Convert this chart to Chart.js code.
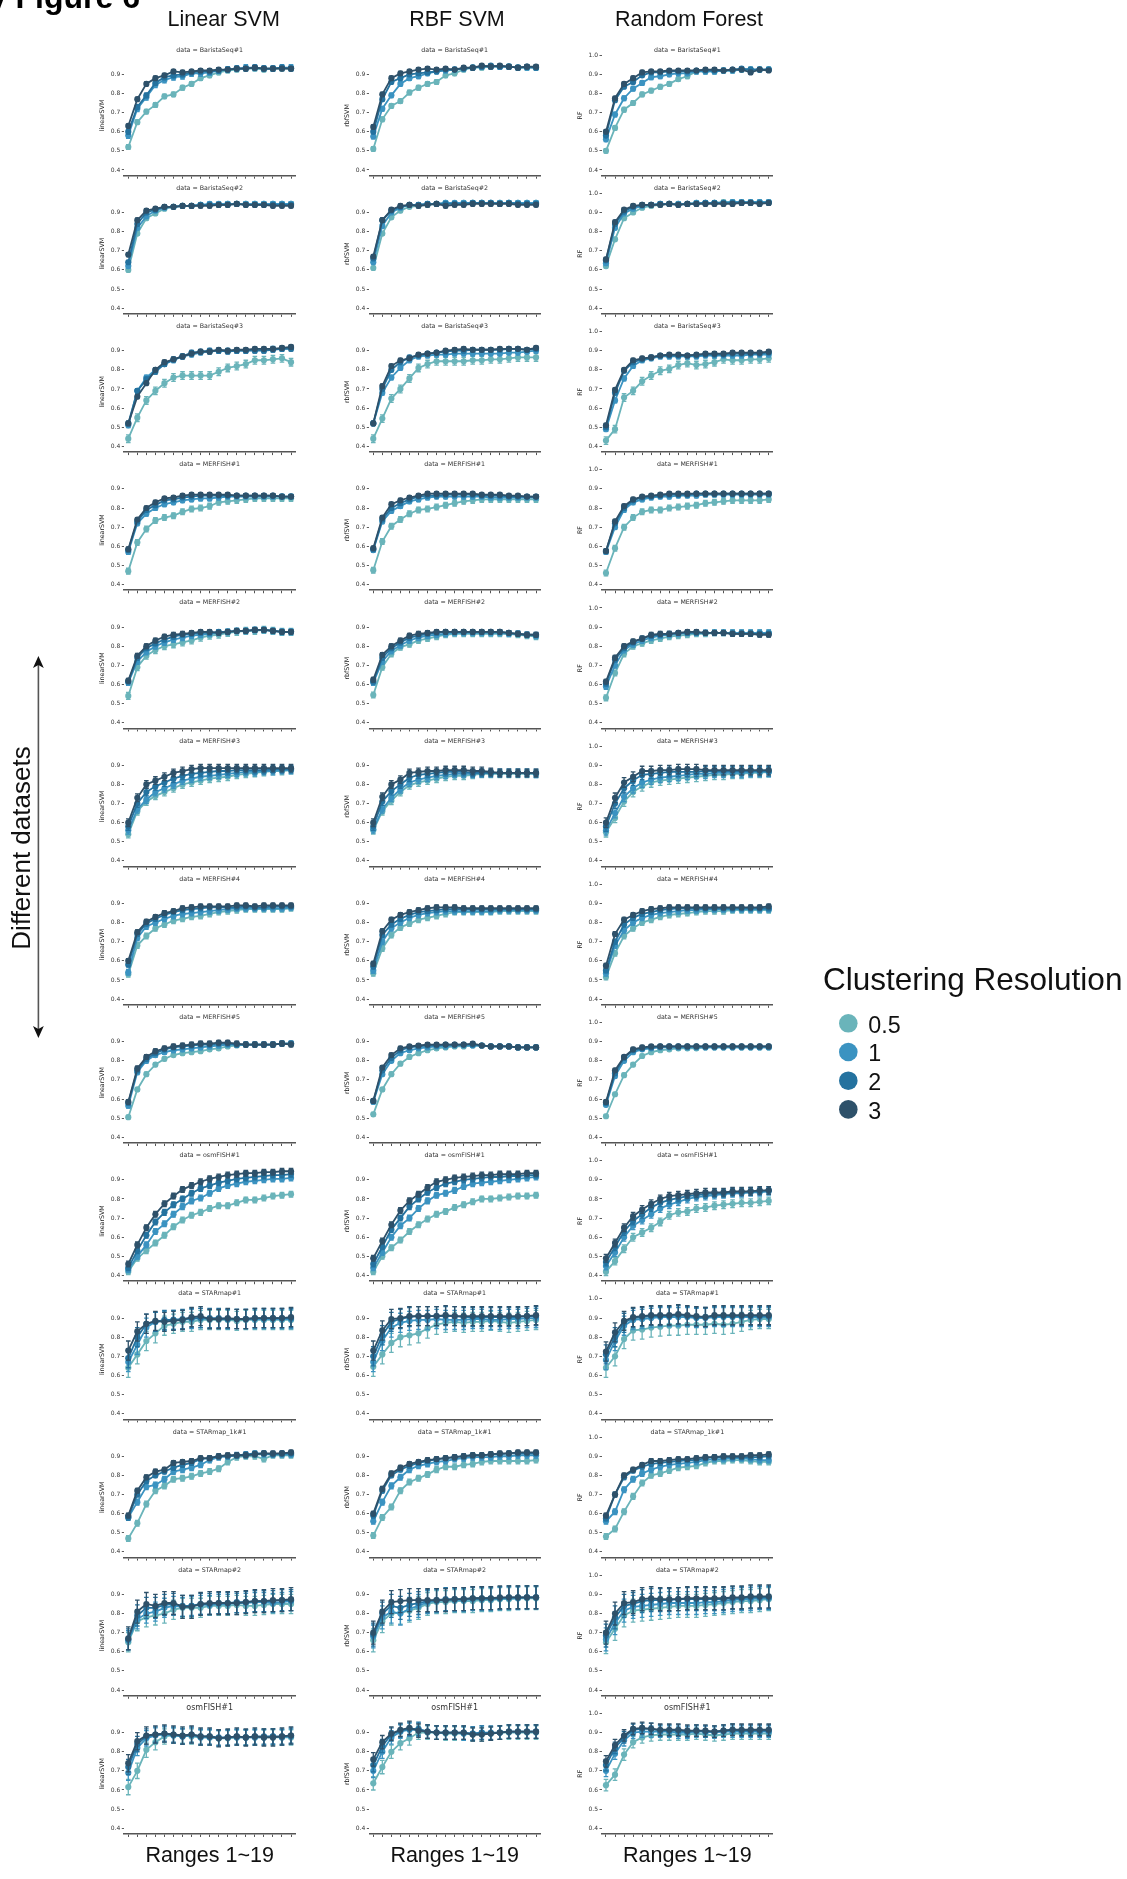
<!DOCTYPE html>
<html>
<head>
<meta charset="utf-8">
<script src="https://cdn.jsdelivr.net/npm/chart.js@4.4.1/dist/chart.umd.min.js"></script>
<style>
  html, body { margin: 0; padding: 0; background: #fff; }
  body { position: relative; width: 1127px; height: 1879px; overflow: hidden; }
  canvas.panel { position: absolute; }
  svg.overlay { position: absolute; left: 0; top: 0; pointer-events: none; }
</style>
</head>
<body>
<script>
// ---------- labels ----------
const rangeTicks = [1,2,3,4,5,6,7,8,9,10,11,12,13,14,15,16,17,18,19];
const resolutions = ['0.5', '1', '2', '3'];
const seriesColors = ['#6ab4ba', '#3b93c1', '#24729f', '#2e516a'];
const models = ['Linear SVM', 'RBF SVM', 'Random Forest'];
const modelAxisTitles = ['linearSVM', 'rbfSVM', 'RF'];
const datasetTitles = [
  'data = BaristaSeq#1', 'data = BaristaSeq#2', 'data = BaristaSeq#3',
  'data = MERFISH#1', 'data = MERFISH#2', 'data = MERFISH#3', 'data = MERFISH#4', 'data = MERFISH#5',
  'data = osmFISH#1', 'data = STARmap#1', 'data = STARmap_1k#1', 'data = STARmap#2', 'osmFISH#1'
];
const yTicksSVM = [0.4, 0.5, 0.6, 0.7, 0.8, 0.9];
const yTicksRF = [0.4, 0.5, 0.6, 0.7, 0.8, 0.9, 1.0];

// ---------- Linear SVM accuracy (rows: resolution 0.5, 1, 2, 3) ----------
const linBarista1 = [
  [0.52,0.65,0.705,0.74,0.785,0.795,0.83,0.85,0.88,0.895,0.91,0.92,0.925,0.93,0.93,0.925,0.93,0.93,0.93],
  [0.58,0.72,0.78,0.845,0.87,0.885,0.89,0.905,0.905,0.91,0.92,0.925,0.93,0.935,0.935,0.93,0.93,0.935,0.935],
  [0.60,0.73,0.79,0.855,0.885,0.895,0.90,0.91,0.915,0.915,0.92,0.925,0.93,0.93,0.935,0.93,0.93,0.935,0.93],
  [0.63,0.77,0.85,0.88,0.895,0.915,0.91,0.915,0.92,0.92,0.925,0.925,0.93,0.93,0.935,0.93,0.93,0.93,0.93]];
const linBarista2 = [
  [0.60,0.79,0.87,0.895,0.92,0.93,0.935,0.935,0.94,0.94,0.94,0.945,0.945,0.945,0.945,0.945,0.945,0.945,0.945],
  [0.62,0.82,0.88,0.91,0.925,0.93,0.935,0.935,0.94,0.945,0.945,0.945,0.945,0.945,0.945,0.945,0.945,0.945,0.945],
  [0.64,0.84,0.90,0.915,0.93,0.93,0.935,0.935,0.94,0.94,0.94,0.94,0.945,0.94,0.94,0.94,0.94,0.94,0.94],
  [0.68,0.86,0.91,0.92,0.93,0.93,0.935,0.935,0.935,0.935,0.94,0.94,0.945,0.94,0.94,0.94,0.935,0.935,0.935]];
const linBarista3 = [
  [0.44,0.55,0.64,0.69,0.73,0.76,0.77,0.77,0.77,0.77,0.79,0.81,0.82,0.83,0.85,0.85,0.855,0.86,0.84],
  [0.51,0.69,0.76,0.80,0.83,0.85,0.87,0.88,0.89,0.895,0.90,0.90,0.90,0.90,0.905,0.905,0.91,0.91,0.915],
  [0.52,0.69,0.75,0.79,0.83,0.855,0.87,0.89,0.895,0.90,0.90,0.895,0.90,0.90,0.90,0.90,0.905,0.91,0.91],
  [0.52,0.66,0.73,0.80,0.84,0.855,0.87,0.885,0.895,0.895,0.905,0.90,0.905,0.905,0.91,0.91,0.91,0.915,0.92]];
const linMerfish1 = [
  [0.47,0.62,0.69,0.735,0.75,0.76,0.78,0.795,0.80,0.81,0.83,0.835,0.84,0.845,0.85,0.85,0.85,0.85,0.85],
  [0.57,0.72,0.77,0.80,0.82,0.83,0.84,0.845,0.85,0.85,0.855,0.86,0.86,0.86,0.86,0.86,0.86,0.86,0.86],
  [0.58,0.73,0.79,0.815,0.84,0.845,0.855,0.86,0.865,0.865,0.865,0.865,0.865,0.865,0.865,0.865,0.865,0.86,0.86],
  [0.585,0.74,0.80,0.83,0.85,0.855,0.865,0.87,0.87,0.87,0.87,0.87,0.865,0.865,0.865,0.865,0.865,0.86,0.86]];
const linMerfish2 = [
  [0.54,0.69,0.75,0.78,0.80,0.81,0.82,0.83,0.845,0.855,0.86,0.87,0.875,0.88,0.88,0.885,0.88,0.875,0.875],
  [0.61,0.72,0.77,0.80,0.82,0.835,0.845,0.855,0.86,0.865,0.87,0.875,0.88,0.88,0.885,0.885,0.88,0.875,0.875],
  [0.615,0.74,0.79,0.815,0.835,0.85,0.86,0.865,0.87,0.87,0.875,0.875,0.88,0.88,0.885,0.885,0.88,0.875,0.875],
  [0.62,0.75,0.80,0.83,0.85,0.86,0.865,0.87,0.875,0.875,0.87,0.875,0.88,0.88,0.885,0.885,0.88,0.875,0.875]];
const linMerfish3 = [
  [0.54,0.66,0.71,0.74,0.76,0.78,0.80,0.81,0.82,0.83,0.835,0.84,0.85,0.855,0.86,0.865,0.87,0.87,0.875],
  [0.56,0.67,0.72,0.76,0.78,0.80,0.82,0.83,0.84,0.845,0.85,0.855,0.86,0.865,0.865,0.87,0.87,0.875,0.875],
  [0.58,0.70,0.76,0.79,0.81,0.83,0.845,0.855,0.86,0.865,0.87,0.87,0.875,0.875,0.875,0.875,0.88,0.88,0.88],
  [0.60,0.73,0.80,0.82,0.84,0.86,0.87,0.88,0.885,0.885,0.885,0.885,0.885,0.885,0.885,0.885,0.885,0.885,0.885]];
const linMerfish4 = [
  [0.53,0.68,0.73,0.77,0.79,0.81,0.82,0.83,0.835,0.845,0.855,0.86,0.865,0.87,0.87,0.87,0.87,0.87,0.875],
  [0.54,0.72,0.78,0.80,0.82,0.835,0.845,0.85,0.855,0.86,0.865,0.87,0.875,0.875,0.875,0.875,0.875,0.875,0.88],
  [0.58,0.74,0.795,0.82,0.84,0.855,0.865,0.87,0.875,0.88,0.88,0.88,0.88,0.885,0.88,0.88,0.885,0.885,0.885],
  [0.60,0.75,0.805,0.83,0.85,0.86,0.875,0.88,0.885,0.885,0.885,0.885,0.89,0.89,0.885,0.89,0.89,0.89,0.89]];
const linMerfish5 = [
  [0.505,0.65,0.73,0.78,0.81,0.83,0.84,0.845,0.85,0.86,0.865,0.875,0.88,0.885,0.885,0.885,0.885,0.89,0.89],
  [0.565,0.74,0.80,0.83,0.845,0.855,0.86,0.865,0.87,0.875,0.88,0.885,0.885,0.885,0.885,0.885,0.885,0.89,0.89],
  [0.58,0.75,0.81,0.84,0.86,0.87,0.875,0.88,0.885,0.885,0.89,0.89,0.885,0.885,0.885,0.885,0.885,0.89,0.89],
  [0.585,0.76,0.82,0.85,0.865,0.875,0.88,0.885,0.89,0.89,0.895,0.895,0.89,0.885,0.885,0.885,0.885,0.89,0.885]];
const linOsmfish1 = [
  [0.42,0.49,0.53,0.57,0.61,0.655,0.69,0.715,0.73,0.75,0.765,0.765,0.78,0.795,0.795,0.805,0.815,0.82,0.825],
  [0.43,0.50,0.56,0.63,0.67,0.72,0.76,0.79,0.805,0.83,0.855,0.87,0.88,0.89,0.895,0.90,0.905,0.905,0.91],
  [0.44,0.53,0.61,0.68,0.73,0.77,0.80,0.83,0.855,0.87,0.885,0.895,0.905,0.91,0.915,0.92,0.925,0.925,0.93],
  [0.46,0.56,0.65,0.72,0.775,0.815,0.85,0.87,0.89,0.905,0.915,0.925,0.93,0.935,0.935,0.94,0.94,0.945,0.945]];
const linStarmap1 = [
  [0.64,0.71,0.78,0.82,0.86,0.87,0.88,0.88,0.89,0.89,0.89,0.89,0.885,0.89,0.89,0.89,0.89,0.89,0.89],
  [0.67,0.76,0.85,0.88,0.885,0.89,0.89,0.895,0.90,0.895,0.895,0.895,0.895,0.895,0.895,0.895,0.895,0.895,0.895],
  [0.69,0.80,0.87,0.88,0.89,0.89,0.895,0.90,0.90,0.90,0.90,0.895,0.895,0.895,0.90,0.90,0.90,0.90,0.90],
  [0.73,0.83,0.87,0.885,0.88,0.885,0.89,0.905,0.91,0.895,0.895,0.90,0.895,0.895,0.90,0.90,0.90,0.90,0.905]];
const linStarmap1k = [
  [0.47,0.55,0.65,0.72,0.745,0.78,0.785,0.795,0.81,0.82,0.835,0.87,0.895,0.90,0.90,0.885,0.905,0.905,0.905],
  [0.58,0.66,0.74,0.75,0.78,0.82,0.83,0.84,0.855,0.88,0.895,0.90,0.905,0.905,0.91,0.91,0.91,0.91,0.91],
  [0.58,0.70,0.77,0.80,0.82,0.84,0.855,0.865,0.885,0.89,0.90,0.90,0.905,0.91,0.915,0.915,0.91,0.915,0.915],
  [0.59,0.72,0.79,0.82,0.83,0.865,0.87,0.875,0.89,0.89,0.90,0.905,0.905,0.905,0.91,0.915,0.915,0.915,0.92]];
const linStarmap2 = [
  [0.65,0.76,0.78,0.79,0.80,0.82,0.83,0.83,0.83,0.84,0.84,0.84,0.845,0.84,0.84,0.845,0.85,0.85,0.85],
  [0.66,0.77,0.80,0.81,0.83,0.84,0.835,0.84,0.845,0.845,0.85,0.85,0.855,0.855,0.86,0.86,0.855,0.86,0.865],
  [0.665,0.79,0.83,0.83,0.845,0.85,0.84,0.84,0.85,0.85,0.855,0.855,0.86,0.86,0.865,0.865,0.865,0.87,0.87],
  [0.67,0.81,0.85,0.84,0.855,0.855,0.835,0.835,0.85,0.855,0.855,0.855,0.855,0.86,0.865,0.865,0.87,0.87,0.875]];
const linOsmfishB = [
  [0.615,0.70,0.81,0.85,0.88,0.885,0.885,0.88,0.875,0.875,0.87,0.87,0.875,0.875,0.875,0.875,0.875,0.875,0.875],
  [0.69,0.82,0.87,0.885,0.89,0.885,0.88,0.885,0.875,0.875,0.87,0.875,0.875,0.875,0.875,0.875,0.88,0.875,0.88],
  [0.72,0.84,0.88,0.89,0.895,0.89,0.88,0.89,0.88,0.88,0.875,0.875,0.88,0.875,0.88,0.88,0.88,0.88,0.885],
  [0.74,0.855,0.885,0.89,0.895,0.89,0.885,0.89,0.88,0.88,0.87,0.875,0.88,0.875,0.88,0.875,0.875,0.88,0.885]];

// ---------- RBF SVM accuracy ----------
const rbfBarista1 = [
  [0.51,0.665,0.735,0.76,0.805,0.83,0.85,0.86,0.895,0.905,0.925,0.935,0.935,0.94,0.94,0.94,0.935,0.935,0.935],
  [0.575,0.72,0.79,0.85,0.88,0.89,0.905,0.915,0.92,0.925,0.93,0.935,0.94,0.94,0.94,0.94,0.935,0.935,0.935],
  [0.60,0.77,0.86,0.88,0.90,0.905,0.91,0.915,0.925,0.925,0.93,0.935,0.94,0.945,0.94,0.94,0.935,0.94,0.935],
  [0.625,0.795,0.88,0.905,0.915,0.925,0.93,0.925,0.93,0.925,0.935,0.935,0.945,0.94,0.945,0.94,0.935,0.94,0.94]];
const rbfBarista2 = [
  [0.61,0.79,0.875,0.91,0.93,0.935,0.94,0.945,0.95,0.945,0.95,0.95,0.95,0.95,0.95,0.95,0.95,0.95,0.95],
  [0.64,0.83,0.90,0.925,0.94,0.94,0.945,0.945,0.95,0.95,0.95,0.95,0.95,0.95,0.95,0.95,0.95,0.95,0.95],
  [0.66,0.86,0.91,0.93,0.94,0.94,0.945,0.945,0.945,0.945,0.945,0.95,0.95,0.95,0.945,0.95,0.945,0.945,0.945],
  [0.67,0.86,0.915,0.935,0.94,0.935,0.94,0.945,0.935,0.94,0.94,0.945,0.945,0.945,0.945,0.945,0.94,0.94,0.94]];
const rbfBarista3 = [
  [0.44,0.545,0.65,0.70,0.755,0.81,0.83,0.845,0.845,0.845,0.845,0.85,0.85,0.855,0.855,0.86,0.865,0.865,0.865],
  [0.52,0.68,0.76,0.81,0.85,0.87,0.875,0.88,0.88,0.885,0.885,0.885,0.885,0.885,0.885,0.89,0.89,0.895,0.90],
  [0.52,0.70,0.80,0.84,0.865,0.875,0.885,0.89,0.895,0.90,0.90,0.905,0.905,0.905,0.905,0.91,0.91,0.905,0.91],
  [0.52,0.715,0.82,0.85,0.86,0.88,0.885,0.89,0.90,0.905,0.91,0.905,0.905,0.905,0.91,0.91,0.91,0.905,0.915]];
const rbfMerfish1 = [
  [0.475,0.625,0.705,0.74,0.77,0.79,0.795,0.805,0.815,0.825,0.835,0.84,0.845,0.845,0.845,0.845,0.845,0.845,0.845],
  [0.58,0.73,0.785,0.81,0.835,0.845,0.855,0.86,0.86,0.86,0.86,0.86,0.86,0.855,0.855,0.855,0.855,0.855,0.855],
  [0.585,0.74,0.80,0.825,0.845,0.86,0.865,0.865,0.87,0.87,0.87,0.87,0.865,0.865,0.865,0.86,0.86,0.86,0.86],
  [0.59,0.75,0.82,0.84,0.855,0.865,0.875,0.875,0.875,0.875,0.875,0.875,0.87,0.87,0.87,0.865,0.865,0.86,0.86]];
const rbfMerfish2 = [
  [0.545,0.69,0.76,0.795,0.81,0.83,0.84,0.85,0.86,0.865,0.865,0.865,0.865,0.865,0.865,0.865,0.86,0.855,0.85],
  [0.61,0.72,0.775,0.805,0.83,0.845,0.855,0.86,0.865,0.87,0.87,0.87,0.87,0.87,0.87,0.865,0.865,0.86,0.855],
  [0.615,0.74,0.79,0.82,0.845,0.855,0.865,0.87,0.875,0.875,0.875,0.875,0.875,0.875,0.875,0.87,0.865,0.86,0.86],
  [0.625,0.755,0.80,0.83,0.855,0.865,0.87,0.875,0.875,0.875,0.875,0.875,0.875,0.875,0.875,0.87,0.865,0.86,0.86]];
const rbfMerfish3 = [
  [0.56,0.66,0.715,0.76,0.795,0.81,0.82,0.83,0.84,0.845,0.845,0.85,0.855,0.855,0.855,0.855,0.855,0.855,0.855],
  [0.565,0.67,0.73,0.775,0.81,0.825,0.835,0.845,0.85,0.855,0.855,0.855,0.86,0.86,0.86,0.86,0.86,0.86,0.855],
  [0.58,0.71,0.765,0.80,0.835,0.85,0.855,0.86,0.865,0.865,0.865,0.86,0.86,0.86,0.86,0.86,0.86,0.86,0.86],
  [0.60,0.735,0.80,0.825,0.86,0.865,0.87,0.87,0.875,0.875,0.875,0.87,0.87,0.865,0.86,0.86,0.86,0.86,0.86]];
const rbfMerfish4 = [
  [0.535,0.665,0.735,0.775,0.795,0.815,0.825,0.835,0.845,0.855,0.855,0.855,0.855,0.855,0.86,0.86,0.86,0.86,0.86],
  [0.55,0.70,0.77,0.80,0.825,0.84,0.85,0.855,0.86,0.86,0.86,0.86,0.86,0.86,0.865,0.865,0.865,0.865,0.865],
  [0.57,0.735,0.79,0.82,0.84,0.855,0.86,0.865,0.87,0.87,0.87,0.87,0.87,0.87,0.87,0.87,0.87,0.87,0.87],
  [0.585,0.755,0.815,0.84,0.855,0.865,0.875,0.88,0.88,0.88,0.875,0.875,0.875,0.875,0.875,0.875,0.875,0.875,0.875]];
const rbfMerfish5 = [
  [0.52,0.65,0.73,0.785,0.82,0.84,0.855,0.865,0.87,0.875,0.875,0.88,0.88,0.875,0.875,0.875,0.87,0.87,0.87],
  [0.585,0.73,0.80,0.84,0.855,0.865,0.87,0.875,0.875,0.88,0.88,0.88,0.88,0.875,0.875,0.875,0.87,0.87,0.87],
  [0.59,0.75,0.815,0.855,0.87,0.875,0.88,0.88,0.885,0.885,0.885,0.885,0.88,0.875,0.875,0.875,0.87,0.87,0.87],
  [0.59,0.765,0.83,0.865,0.875,0.88,0.885,0.885,0.885,0.885,0.885,0.89,0.88,0.875,0.875,0.875,0.87,0.87,0.87]];
const rbfOsmfish1 = [
  [0.42,0.50,0.545,0.585,0.63,0.665,0.695,0.72,0.735,0.755,0.77,0.785,0.80,0.80,0.805,0.81,0.815,0.815,0.82],
  [0.44,0.52,0.60,0.66,0.70,0.75,0.79,0.82,0.83,0.845,0.865,0.88,0.885,0.89,0.895,0.90,0.905,0.91,0.915],
  [0.46,0.55,0.64,0.70,0.76,0.80,0.835,0.86,0.88,0.89,0.90,0.905,0.91,0.915,0.915,0.92,0.92,0.925,0.925],
  [0.49,0.58,0.665,0.74,0.79,0.825,0.86,0.89,0.90,0.91,0.915,0.92,0.925,0.925,0.93,0.93,0.93,0.935,0.935]];
const rbfStarmap1 = [
  [0.645,0.71,0.77,0.80,0.81,0.82,0.845,0.865,0.875,0.88,0.875,0.88,0.88,0.885,0.88,0.875,0.88,0.885,0.89],
  [0.67,0.78,0.85,0.875,0.885,0.89,0.89,0.895,0.89,0.89,0.89,0.895,0.895,0.89,0.89,0.895,0.895,0.90,0.90],
  [0.70,0.81,0.88,0.895,0.905,0.91,0.91,0.91,0.91,0.91,0.905,0.905,0.905,0.905,0.905,0.905,0.905,0.91,0.91],
  [0.73,0.835,0.895,0.90,0.91,0.91,0.91,0.91,0.915,0.91,0.91,0.91,0.91,0.91,0.91,0.91,0.91,0.91,0.915]];
const rbfStarmap1k = [
  [0.485,0.58,0.635,0.72,0.765,0.785,0.805,0.83,0.845,0.845,0.855,0.86,0.87,0.875,0.875,0.875,0.875,0.875,0.88],
  [0.56,0.66,0.745,0.79,0.83,0.85,0.86,0.87,0.875,0.885,0.89,0.895,0.895,0.895,0.90,0.90,0.905,0.905,0.905],
  [0.59,0.72,0.80,0.83,0.85,0.865,0.875,0.885,0.89,0.895,0.90,0.905,0.905,0.91,0.91,0.915,0.915,0.915,0.915],
  [0.60,0.73,0.81,0.84,0.86,0.87,0.88,0.885,0.89,0.895,0.90,0.905,0.905,0.91,0.915,0.915,0.92,0.92,0.92]];
const rbfStarmap2 = [
  [0.66,0.76,0.80,0.805,0.815,0.83,0.85,0.86,0.86,0.865,0.865,0.865,0.87,0.87,0.875,0.875,0.88,0.88,0.88],
  [0.68,0.78,0.81,0.80,0.825,0.84,0.86,0.865,0.87,0.87,0.87,0.875,0.875,0.875,0.88,0.88,0.88,0.885,0.885],
  [0.69,0.80,0.84,0.83,0.845,0.855,0.865,0.87,0.875,0.875,0.875,0.88,0.88,0.88,0.88,0.885,0.885,0.885,0.885],
  [0.70,0.81,0.86,0.865,0.87,0.87,0.87,0.87,0.87,0.875,0.875,0.88,0.88,0.88,0.885,0.885,0.885,0.885,0.885]];
const rbfOsmfishB = [
  [0.635,0.72,0.80,0.845,0.87,0.90,0.90,0.90,0.895,0.895,0.895,0.89,0.89,0.895,0.90,0.90,0.90,0.90,0.90],
  [0.70,0.80,0.875,0.905,0.915,0.915,0.905,0.90,0.90,0.90,0.895,0.895,0.90,0.895,0.90,0.905,0.905,0.905,0.905],
  [0.73,0.83,0.89,0.91,0.92,0.92,0.905,0.90,0.90,0.90,0.90,0.895,0.90,0.90,0.90,0.905,0.905,0.905,0.905],
  [0.76,0.85,0.895,0.915,0.925,0.91,0.905,0.90,0.90,0.90,0.90,0.89,0.89,0.895,0.90,0.905,0.905,0.905,0.905]];

// ---------- Random Forest accuracy ----------
const rfBarista1 = [
  [0.50,0.62,0.715,0.75,0.795,0.815,0.835,0.85,0.875,0.89,0.915,0.915,0.915,0.92,0.92,0.925,0.925,0.925,0.925],
  [0.56,0.69,0.775,0.825,0.855,0.885,0.89,0.90,0.905,0.905,0.915,0.915,0.915,0.92,0.92,0.925,0.925,0.925,0.925],
  [0.58,0.765,0.835,0.86,0.895,0.91,0.91,0.915,0.915,0.915,0.92,0.92,0.92,0.92,0.925,0.93,0.925,0.925,0.925],
  [0.60,0.775,0.85,0.88,0.91,0.915,0.915,0.92,0.92,0.92,0.92,0.925,0.925,0.92,0.925,0.925,0.91,0.925,0.92]];
const rfBarista2 = [
  [0.62,0.76,0.87,0.90,0.925,0.935,0.94,0.945,0.945,0.945,0.95,0.95,0.95,0.955,0.955,0.955,0.955,0.955,0.955],
  [0.635,0.82,0.895,0.92,0.935,0.94,0.945,0.945,0.945,0.945,0.95,0.95,0.95,0.95,0.955,0.955,0.955,0.955,0.955],
  [0.65,0.84,0.905,0.93,0.94,0.94,0.945,0.945,0.94,0.945,0.945,0.95,0.95,0.95,0.95,0.95,0.95,0.95,0.95],
  [0.655,0.85,0.915,0.935,0.94,0.94,0.94,0.945,0.94,0.945,0.945,0.945,0.945,0.945,0.945,0.95,0.95,0.945,0.95]];
const rfBarista3 = [
  [0.43,0.49,0.655,0.69,0.74,0.77,0.795,0.805,0.825,0.835,0.825,0.83,0.84,0.855,0.85,0.85,0.855,0.855,0.86],
  [0.49,0.64,0.755,0.82,0.85,0.86,0.87,0.87,0.87,0.87,0.87,0.875,0.875,0.875,0.875,0.875,0.88,0.88,0.88],
  [0.50,0.68,0.795,0.84,0.855,0.865,0.875,0.875,0.875,0.875,0.875,0.88,0.88,0.88,0.885,0.885,0.885,0.885,0.89],
  [0.51,0.695,0.80,0.85,0.86,0.865,0.875,0.88,0.88,0.875,0.88,0.885,0.885,0.885,0.89,0.89,0.89,0.89,0.895]];
const rfMerfish1 = [
  [0.46,0.59,0.70,0.75,0.78,0.79,0.79,0.80,0.805,0.81,0.815,0.825,0.83,0.835,0.84,0.84,0.84,0.84,0.845],
  [0.57,0.70,0.79,0.83,0.845,0.855,0.86,0.86,0.865,0.865,0.865,0.87,0.87,0.87,0.87,0.87,0.87,0.87,0.87],
  [0.575,0.72,0.80,0.84,0.855,0.86,0.865,0.87,0.87,0.87,0.875,0.875,0.875,0.875,0.875,0.875,0.875,0.875,0.875],
  [0.575,0.73,0.81,0.845,0.86,0.865,0.87,0.875,0.875,0.875,0.875,0.875,0.875,0.875,0.875,0.875,0.875,0.875,0.875]];
const rfMerfish2 = [
  [0.53,0.66,0.76,0.80,0.815,0.83,0.84,0.85,0.855,0.86,0.865,0.865,0.87,0.87,0.87,0.87,0.87,0.87,0.87],
  [0.59,0.70,0.78,0.81,0.83,0.845,0.855,0.86,0.865,0.87,0.87,0.87,0.87,0.87,0.87,0.87,0.87,0.87,0.87],
  [0.605,0.73,0.79,0.82,0.84,0.855,0.86,0.865,0.87,0.87,0.87,0.87,0.87,0.87,0.865,0.865,0.865,0.865,0.865],
  [0.615,0.74,0.80,0.825,0.84,0.86,0.865,0.865,0.87,0.875,0.875,0.87,0.87,0.87,0.865,0.865,0.865,0.86,0.86]];
const rfMerfish3 = [
  [0.55,0.625,0.71,0.76,0.79,0.81,0.82,0.825,0.83,0.835,0.84,0.845,0.85,0.85,0.855,0.855,0.86,0.86,0.865],
  [0.56,0.65,0.735,0.78,0.81,0.825,0.835,0.84,0.845,0.85,0.855,0.855,0.86,0.86,0.86,0.86,0.865,0.865,0.865],
  [0.58,0.70,0.78,0.82,0.85,0.855,0.86,0.865,0.865,0.865,0.865,0.87,0.87,0.87,0.87,0.87,0.87,0.87,0.87],
  [0.60,0.73,0.81,0.84,0.87,0.87,0.875,0.875,0.88,0.88,0.88,0.875,0.875,0.875,0.875,0.875,0.875,0.875,0.875]];
const rfMerfish4 = [
  [0.515,0.64,0.73,0.77,0.80,0.815,0.83,0.84,0.845,0.85,0.855,0.86,0.86,0.86,0.865,0.865,0.865,0.865,0.865],
  [0.535,0.68,0.76,0.80,0.825,0.84,0.85,0.855,0.86,0.865,0.865,0.87,0.87,0.87,0.87,0.87,0.87,0.87,0.87],
  [0.55,0.70,0.79,0.825,0.845,0.855,0.865,0.87,0.875,0.875,0.875,0.875,0.875,0.875,0.875,0.875,0.875,0.875,0.875],
  [0.575,0.74,0.815,0.84,0.86,0.87,0.875,0.88,0.88,0.88,0.88,0.88,0.88,0.88,0.88,0.88,0.88,0.88,0.885]];
const rfMerfish5 = [
  [0.51,0.625,0.725,0.78,0.825,0.845,0.855,0.86,0.865,0.865,0.865,0.87,0.87,0.87,0.87,0.87,0.87,0.87,0.87],
  [0.57,0.72,0.80,0.845,0.86,0.865,0.87,0.87,0.87,0.87,0.87,0.87,0.87,0.87,0.87,0.87,0.87,0.87,0.87],
  [0.58,0.735,0.815,0.855,0.865,0.87,0.875,0.875,0.875,0.875,0.875,0.875,0.875,0.875,0.875,0.875,0.875,0.875,0.875],
  [0.585,0.75,0.82,0.86,0.87,0.875,0.875,0.875,0.875,0.875,0.875,0.875,0.875,0.875,0.875,0.875,0.875,0.875,0.875]];
const rfOsmfish1 = [
  [0.42,0.475,0.54,0.60,0.625,0.65,0.68,0.715,0.73,0.735,0.75,0.755,0.765,0.77,0.775,0.78,0.78,0.785,0.79],
  [0.45,0.52,0.60,0.66,0.69,0.72,0.75,0.77,0.785,0.80,0.81,0.815,0.82,0.825,0.83,0.83,0.835,0.835,0.84],
  [0.47,0.55,0.63,0.685,0.72,0.755,0.78,0.795,0.805,0.815,0.82,0.825,0.83,0.83,0.835,0.835,0.84,0.84,0.845],
  [0.49,0.57,0.65,0.71,0.745,0.775,0.80,0.815,0.82,0.825,0.83,0.835,0.835,0.835,0.84,0.84,0.84,0.845,0.845]];
const rfStarmap1 = [
  [0.64,0.70,0.79,0.835,0.84,0.85,0.855,0.86,0.86,0.865,0.865,0.865,0.87,0.865,0.87,0.88,0.89,0.895,0.895],
  [0.68,0.78,0.86,0.89,0.895,0.90,0.905,0.905,0.905,0.905,0.90,0.90,0.905,0.905,0.905,0.905,0.905,0.905,0.905],
  [0.71,0.80,0.875,0.90,0.905,0.91,0.91,0.91,0.915,0.91,0.905,0.905,0.91,0.91,0.91,0.91,0.91,0.91,0.91],
  [0.725,0.825,0.885,0.905,0.91,0.915,0.915,0.915,0.92,0.915,0.91,0.905,0.915,0.915,0.915,0.915,0.915,0.915,0.915]];
const rfStarmap1k = [
  [0.48,0.52,0.61,0.69,0.76,0.80,0.81,0.825,0.84,0.845,0.85,0.865,0.875,0.875,0.88,0.88,0.875,0.87,0.87],
  [0.56,0.61,0.725,0.78,0.81,0.83,0.845,0.855,0.86,0.865,0.87,0.88,0.885,0.885,0.89,0.89,0.885,0.88,0.88],
  [0.575,0.70,0.79,0.825,0.845,0.86,0.865,0.87,0.875,0.88,0.88,0.89,0.895,0.895,0.895,0.895,0.895,0.895,0.90],
  [0.59,0.70,0.80,0.83,0.855,0.875,0.875,0.88,0.885,0.885,0.89,0.895,0.895,0.90,0.90,0.90,0.905,0.905,0.91]];
const rfStarmap2 = [
  [0.65,0.72,0.79,0.815,0.82,0.825,0.83,0.835,0.84,0.84,0.84,0.845,0.85,0.855,0.86,0.865,0.865,0.87,0.875],
  [0.665,0.75,0.815,0.835,0.84,0.845,0.85,0.855,0.855,0.855,0.855,0.86,0.86,0.865,0.87,0.875,0.875,0.88,0.88],
  [0.685,0.78,0.84,0.85,0.865,0.87,0.87,0.87,0.875,0.875,0.875,0.875,0.875,0.875,0.88,0.88,0.885,0.885,0.885],
  [0.70,0.80,0.855,0.86,0.875,0.88,0.875,0.875,0.875,0.88,0.88,0.88,0.88,0.88,0.885,0.885,0.89,0.89,0.89]];
const rfOsmfishB = [
  [0.625,0.68,0.785,0.85,0.875,0.885,0.89,0.89,0.89,0.89,0.895,0.89,0.885,0.89,0.895,0.895,0.895,0.895,0.895],
  [0.70,0.79,0.86,0.90,0.905,0.905,0.905,0.905,0.90,0.90,0.905,0.905,0.90,0.905,0.905,0.905,0.905,0.905,0.905],
  [0.73,0.82,0.875,0.915,0.92,0.92,0.91,0.91,0.91,0.905,0.91,0.905,0.905,0.91,0.915,0.91,0.91,0.91,0.91],
  [0.75,0.835,0.885,0.92,0.925,0.92,0.915,0.915,0.915,0.91,0.91,0.91,0.905,0.91,0.915,0.915,0.915,0.915,0.915]];

// ---------- error-bar half widths (per dataset row, per resolution) ----------
const linErr = [
  [0.012,0.015,0.012,0.010],[0.010,0.010,0.010,0.010],[0.020,0.012,0.012,0.010],
  [0.015,0.012,0.010,0.010],[0.018,0.015,0.012,0.012],[0.020,0.020,0.020,0.020],
  [0.015,0.015,0.012,0.012],[0.010,0.012,0.012,0.012],[0.015,0.015,0.015,0.015],
  [0.050,0.050,0.050,0.050],[0.015,0.015,0.012,0.012],[0.050,0.050,0.055,0.060],
  [0.040,0.040,0.040,0.045]];
const rbfErr = [
  [0.012,0.012,0.010,0.010],[0.010,0.010,0.010,0.010],[0.020,0.012,0.010,0.010],
  [0.015,0.012,0.010,0.010],[0.015,0.015,0.012,0.012],[0.020,0.020,0.020,0.020],
  [0.015,0.015,0.012,0.012],[0.010,0.010,0.010,0.010],[0.015,0.015,0.015,0.015],
  [0.050,0.050,0.050,0.050],[0.015,0.015,0.012,0.012],[0.060,0.060,0.060,0.060],
  [0.035,0.035,0.035,0.035]];
const rfErr = [
  [0.012,0.012,0.010,0.010],[0.010,0.010,0.010,0.010],[0.020,0.012,0.010,0.010],
  [0.015,0.012,0.010,0.010],[0.015,0.015,0.012,0.012],[0.025,0.025,0.025,0.025],
  [0.015,0.015,0.012,0.012],[0.010,0.010,0.010,0.010],[0.020,0.020,0.020,0.020],
  [0.050,0.050,0.050,0.050],[0.015,0.015,0.012,0.012],[0.060,0.060,0.060,0.060],
  [0.030,0.030,0.030,0.030]];

const linPanels = [linBarista1, linBarista2, linBarista3, linMerfish1, linMerfish2, linMerfish3, linMerfish4,
  linMerfish5, linOsmfish1, linStarmap1, linStarmap1k, linStarmap2, linOsmfishB];
const rbfPanels = [rbfBarista1, rbfBarista2, rbfBarista3, rbfMerfish1, rbfMerfish2, rbfMerfish3, rbfMerfish4,
  rbfMerfish5, rbfOsmfish1, rbfStarmap1, rbfStarmap1k, rbfStarmap2, rbfOsmfishB];
const rfPanels = [rfBarista1, rfBarista2, rfBarista3, rfMerfish1, rfMerfish2, rfMerfish3, rfMerfish4,
  rfMerfish5, rfOsmfish1, rfStarmap1, rfStarmap1k, rfStarmap2, rfOsmfishB];
const columnPanels = [linPanels, rbfPanels, rfPanels];
const columnErrors = [linErr, rbfErr, rfErr];

// ---------- grid geometry ----------
const colOffset = [0, 245, 477.7];
const rowPitch = 138.19;
const area0 = { left: 124.3, top: 55.2, width: 170.7, height: 120.5 };
const yMin = 0.37, yMax = 1.0;

// vertical error bars with caps, drawn right after each line
const errorBars = {
  id: 'errorBars',
  afterDatasetDraw(chart, args) {
    const ds = chart.data.datasets[args.index];
    const xs = chart.scales.x, ys = chart.scales.y, ctx = chart.ctx;
    ctx.save();
    ctx.strokeStyle = ds.borderColor;
    ctx.lineWidth = 1.3;
    ds.data.forEach(p => {
      const px = xs.getPixelForValue(p.x);
      const t = ys.getPixelForValue(p.y + ds.errHalf);
      const b = ys.getPixelForValue(p.y - ds.errHalf);
      ctx.beginPath();
      ctx.moveTo(px, t); ctx.lineTo(px, b);
      ctx.moveTo(px - 2.3, t); ctx.lineTo(px + 2.3, t);
      ctx.moveTo(px - 2.3, b); ctx.lineTo(px + 2.3, b);
      ctx.stroke();
    });
    ctx.restore();
  }
};

// small facet title just above the plotting area
const panelTitle = {
  id: 'panelTitle',
  afterDraw(chart, args, opts) {
    const { ctx, chartArea: a } = chart;
    ctx.save();
    ctx.font = opts.size + 'px "DejaVu Sans"';
    ctx.fillStyle = '#333';
    ctx.textAlign = 'center';
    ctx.textBaseline = 'middle';
    ctx.fillText(opts.text, (a.left + a.right) / 2, a.top - 5.2);
    ctx.restore();
  }
};

function makePanel(col, row) {
  const areaLeft = area0.left + colOffset[col];
  const areaTop = area0.top + row * rowPitch;
  const canvasLeft = Math.round(areaLeft - 27);
  const canvasTop = Math.round(areaTop - 13);
  const yW = areaLeft - canvasLeft;
  const padTop = areaTop - canvasTop;
  const xH = 6;
  const w = Math.ceil(yW + area0.width + 4);
  const h = Math.ceil(padTop + area0.height + xH + 1);

  const cv = document.createElement('canvas');
  cv.className = 'panel';
  cv.width = w; cv.height = h;
  cv.style.left = canvasLeft + 'px'; cv.style.top = canvasTop + 'px';
  cv.style.width = w + 'px'; cv.style.height = h + 'px';
  document.body.appendChild(cv);

  const values = columnPanels[col][row];
  const errs = columnErrors[col][row];
  const datasets = values.map((vals, k) => ({
    label: resolutions[k],
    data: vals.map((v, i) => ({ x: rangeTicks[i], y: v })),
    errHalf: errs[k],
    borderColor: seriesColors[k],
    backgroundColor: seriesColors[k],
    pointBackgroundColor: seriesColors[k],
    pointBorderWidth: 0,
    pointRadius: 3.1,
    borderWidth: 1.8,
    tension: 0,
    clip: false,
    order: 3 - k
  }));
  const yTicks = col === 2 ? yTicksRF : yTicksSVM;
  const isLast = row === datasetTitles.length - 1;

  new Chart(cv, {
    type: 'line',
    data: { datasets },
    options: {
      responsive: false,
      animation: false,
      devicePixelRatio: 1,
      events: [],
      layout: { padding: { left: 0, top: padTop, right: w - yW - area0.width, bottom: h - padTop - area0.height - xH } },
      plugins: {
        legend: { display: false },
        tooltip: { enabled: false },
        panelTitle: { text: datasetTitles[row], size: isLast ? 8 : 6.3 }
      },
      scales: {
        x: {
          type: 'linear', min: 0.56, max: 19.44,
          afterBuildTicks: s => { s.ticks = rangeTicks.map(v => ({ value: v })); },
          afterFit: s => { s.height = xH; },
          ticks: { autoSkip: false, callback: () => '', padding: 0 },
          grid: { drawOnChartArea: false, drawTicks: true, tickLength: 3, color: '#555', lineWidth: 1 },
          border: { display: true, color: '#555', width: 1.6 }
        },
        y: {
          min: yMin, max: yMax,
          afterBuildTicks: s => { s.ticks = yTicks.map(v => ({ value: v })); },
          afterFit: s => { s.width = yW; },
          ticks: { font: { family: 'DejaVu Sans', size: 6 }, color: '#333', padding: 1.5,
                   callback: v => Number(v).toFixed(1) },
          grid: { drawOnChartArea: false, drawTicks: true, tickLength: 2.5, color: '#333', lineWidth: 0.8 },
          border: { display: false },
          title: { display: true, text: modelAxisTitles[col], color: '#222',
                   font: { family: 'DejaVu Sans', size: 6.3 }, padding: { top: 1.5, bottom: 0 } }
        }
      }
    },
    plugins: [errorBars, panelTitle]
  });
}

for (let c = 0; c < 3; c++) {
  for (let r = 0; r < datasetTitles.length; r++) makePanel(c, r);
}

// ---------- figure-level text, arrow and legend ----------
const NS = 'http://www.w3.org/2000/svg';
const svg = document.createElementNS(NS, 'svg');
svg.setAttribute('class', 'overlay');
svg.setAttribute('width', 1127); svg.setAttribute('height', 1879);
svg.setAttribute('font-family', 'Liberation Sans, Arial, sans-serif');
document.body.appendChild(svg);

function addText(str, attrs) {
  const t = document.createElementNS(NS, 'text');
  for (const k in attrs) t.setAttribute(k, attrs[k]);
  t.textContent = str;
  svg.appendChild(t);
}
function addEl(tag, attrs) {
  const e = document.createElementNS(NS, tag);
  for (const k in attrs) e.setAttribute(k, attrs[k]);
  svg.appendChild(e);
}

addText('Supplementary Figure 6', { x: 140, y: 8, 'text-anchor': 'end', 'font-weight': 'bold', 'font-size': 32, fill: '#000' });

const headerX = [223.7, 457, 689];
models.forEach((m, i) => addText(m, { x: headerX[i], y: 26, 'text-anchor': 'middle', 'font-size': 21.5, fill: '#111' }));
models.forEach((m, i) => addText('Ranges 1~19', {
  x: area0.left + colOffset[i] + area0.width / 2, y: 1862, 'text-anchor': 'middle', 'font-size': 21.5, fill: '#111' }));

// double-headed arrow beside the rows
addEl('line', { x1: 38.4, y1: 664, x2: 38.4, y2: 1030, stroke: '#555', 'stroke-width': 1.6 });
addEl('path', { d: 'M38.4,656 L33,668 L38.4,665 L43.8,668 Z', fill: '#111' });
addEl('path', { d: 'M38.4,1038 L33,1026 L38.4,1029 L43.8,1026 Z', fill: '#111' });
addText('Different datasets', { transform: 'translate(30,848) rotate(-90)', 'text-anchor': 'middle', 'font-size': 26, fill: '#111' });

// legend
addText('Clustering Resolution', { x: 823, y: 990, 'font-size': 31.5, fill: '#111' });
resolutions.forEach((r, k) => {
  const cy = 1023.3 + 28.7 * k;
  addEl('circle', { cx: 848.3, cy: cy, r: 9.3, fill: seriesColors[k] });
  addText(r, { x: 868.3, y: cy + 9.2, 'font-size': 23.3, fill: '#111' });
});
</script>
</body>
</html>
